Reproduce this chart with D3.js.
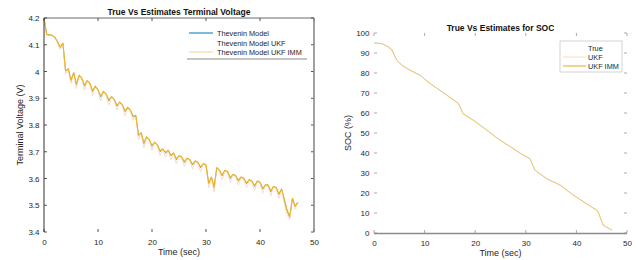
<!DOCTYPE html>
<html><head><meta charset="utf-8">
<script src="https://cdn.jsdelivr.net/npm/d3@7"></script>
<style>body{margin:0;background:#fff}svg{display:block;font-family:"Liberation Sans",Arial,sans-serif}</style>
</head><body><svg id="c" width="638" height="260"></svg>
<script>
// ---------- data ----------
const timeV = [0,0.5,1,1.5,2,2.5,3,3.5,4,4.5,5,5.5,6,6.5,7,7.5,8,8.5,9,9.5,10,10.5,11,11.5,12,12.5,13,13.5,14,14.5,15,15.5,16,16.5,17,17.5,18,18.5,19,19.5,20,20.5,21,21.5,22,22.5,23,23.5,24,24.5,25,25.5,26,26.5,27,27.5,28,28.5,29,29.5,30,30.5,31,31.5,32,32.5,33,33.5,34,34.5,35,35.5,36,36.5,37,37.5,38,38.5,39,39.5,40,40.5,41,41.5,42,42.5,43,43.5,44,44.5,45,45.5,46,46.5,47];
const vTrue = [4.200,4.138,4.136,4.135,4.128,4.110,4.090,4.105,4.000,4.010,
3.965,3.995,3.950,3.985,3.975,3.945,3.965,3.955,3.925,3.945,
3.930,3.905,3.925,3.915,3.890,3.905,3.895,3.870,3.885,3.875,
3.850,3.865,3.855,3.830,3.835,3.760,3.770,3.730,3.755,3.745,
3.720,3.735,3.725,3.700,3.710,3.695,3.705,3.685,3.695,3.670,
3.685,3.680,3.660,3.675,3.670,3.650,3.665,3.660,3.640,3.655,
3.650,3.580,3.605,3.565,3.640,3.630,3.610,3.630,3.625,3.600,
3.615,3.610,3.590,3.605,3.600,3.580,3.595,3.590,3.570,3.590,
3.585,3.560,3.575,3.575,3.550,3.570,3.565,3.540,3.560,3.520,
3.480,3.455,3.525,3.495,3.510];
const vUkf = [4.200,4.137,4.135,4.134,4.126,4.106,4.082,4.103,3.990,4.008,
3.955,3.993,3.935,3.983,3.972,3.930,3.963,3.952,3.910,3.943,
3.927,3.890,3.923,3.912,3.875,3.903,3.892,3.855,3.883,3.872,
3.835,3.863,3.852,3.818,3.833,3.745,3.768,3.715,3.753,3.742,
3.705,3.733,3.722,3.685,3.708,3.680,3.703,3.670,3.693,3.655,
3.683,3.677,3.645,3.673,3.667,3.635,3.663,3.657,3.625,3.653,
3.647,3.565,3.603,3.550,3.638,3.627,3.595,3.628,3.622,3.585,
3.613,3.607,3.575,3.603,3.597,3.565,3.593,3.587,3.555,3.588,
3.582,3.545,3.573,3.572,3.535,3.568,3.562,3.525,3.558,3.505,
3.465,3.445,3.523,3.485,3.508];
const vImm = [4.200,4.139,4.137,4.135,4.129,4.111,4.092,4.106,4.003,4.011,
3.968,3.996,3.953,3.986,3.976,3.948,3.966,3.956,3.928,3.946,
3.931,3.908,3.926,3.916,3.893,3.906,3.896,3.873,3.886,3.876,
3.853,3.866,3.856,3.833,3.836,3.763,3.771,3.733,3.756,3.746,
3.723,3.736,3.726,3.703,3.711,3.698,3.706,3.688,3.696,3.673,
3.686,3.681,3.663,3.676,3.671,3.653,3.666,3.661,3.643,3.656,
3.651,3.583,3.606,3.568,3.641,3.631,3.613,3.631,3.626,3.603,
3.616,3.611,3.593,3.606,3.601,3.583,3.596,3.591,3.573,3.591,
3.586,3.563,3.576,3.576,3.553,3.571,3.566,3.543,3.561,3.523,
3.483,3.458,3.526,3.497,3.511];

const timeS = [0,1.5,2.8,3.5,4.5,5.5,7.1,9.1,11.1,14.4,16.7,17.6,19.6,22.3,24.9,27.5,29.5,30.8,31.8,34.1,36.8,39.4,41.4,44,44.3,45.3,47];
const socTrue = [95,94.8,93.2,91.8,86.5,84,81.5,79,74.8,69,64.8,59.8,56.5,51.5,46.5,42.3,39,37.3,31.5,27.3,24,19,15.7,11.5,10.5,4,1.5];
const socUkf  = [95,94.6,93.0,91.5,86.3,83.8,81.3,78.8,74.6,68.8,64.6,59.6,56.3,51.3,46.3,42.1,38.8,37.1,31.3,27.1,23.8,18.8,15.5,11.3,10.3,3.8,1.3];
const socImm  = [95,94.7,93.1,91.7,86.4,83.9,81.4,78.9,74.7,68.9,64.7,59.7,56.4,51.4,46.4,42.2,38.9,37.2,31.4,27.2,23.9,18.9,15.6,11.4,10.4,3.9,1.4];

const vTicks = [3.4,3.5,3.6,3.7,3.8,3.9,4,4.1,4.2];
const socTicks = [0,10,20,30,40,50,60,70,80,90,100];
const xTicks = [0,10,20,30,40,50];
const legendV = ["Thevenin Model","Thevenin Model UKF","Thevenin Model UKF IMM"];
const legendS = ["True","UKF","UKF IMM"];
const colors = ["#0072BD","#F7DCCB","#F0B21E"];

// ---------- drawing ----------
const svg = d3.select("#c");
svg.append("rect").attr("width",638).attr("height",260).attr("fill","#fff");
const txt = "#262626";

function panel(o){
  const g = svg.append("g");
  const x = d3.scaleLinear().domain([0,50]).range([o.x0,o.x1]);
  const y = d3.scaleLinear().domain(o.ydom).range([o.y0,o.y1]);
  const line = d3.line().x(d=>x(d[0])).y(d=>y(d[1]));
  o.series.forEach((s,i)=>{
    g.append("path").datum(o.t.map((t,j)=>[t,s[j]]))
      .attr("d",line).attr("fill","none").attr("stroke",o.col[i])
      .attr("stroke-width",o.sw[i]).attr("stroke-linejoin","round");
  });
  const yAx = d3.axisLeft(y).tickValues(o.yTicks).tickSize(0).tickPadding(4).tickFormat(o.fmt);
  const xAx = d3.axisBottom(x).tickValues(xTicks).tickSize(0).tickPadding(7);
  const ga = g.append("g").attr("transform",`translate(${o.x0-0.5},0)`).call(yAx);
  ga.select(".domain").remove();
  ga.selectAll("text").attr("font-size",8).attr("fill",txt).attr("font-family","Liberation Sans, Arial");
  const gb = g.append("g").attr("transform",`translate(0,${o.y0})`).call(xAx);
  gb.select(".domain").remove();
  gb.selectAll("text").attr("font-size",8).attr("fill",txt).attr("font-family","Liberation Sans, Arial");
  o.yTicks.forEach(v=>{
    g.append("line").attr("x1",o.x0).attr("x2",o.x0+3).attr("y1",y(v)).attr("y2",y(v)).attr("stroke",o.tickCol);
    g.append("line").attr("x1",o.x1).attr("x2",o.x1-3).attr("y1",y(v)).attr("y2",y(v)).attr("stroke",o.tickCol);
  });
  xTicks.forEach(v=>{
    g.append("line").attr("x1",x(v)).attr("x2",x(v)).attr("y1",o.y0).attr("y2",o.y0-3).attr("stroke",o.tickCol);
    g.append("line").attr("x1",x(v)).attr("x2",x(v)).attr("y1",o.y1).attr("y2",o.y1+3).attr("stroke",o.tickCol);
  });
  o.frame(g,x,y);
  g.append("text").attr("x",(o.x0+o.x1)/2).attr("y",o.y0+23).attr("text-anchor","middle")
    .attr("font-size",9).attr("fill",txt).text("Time (sec)");
  g.append("text").attr("transform",`translate(${o.ylx},${(o.y0+o.y1)/2}) rotate(-90)`)
    .attr("text-anchor","middle").attr("font-size",9).attr("fill",txt).text(o.ylabel);
  g.append("text").attr("x",(o.x0+o.x1)/2).attr("y",o.ty).attr("text-anchor","middle")
    .attr("font-size",8.5).attr("font-weight","bold").attr("fill","#111").text(o.title);
  const L = o.leg;
  if(L.box){
    g.append("rect").attr("x",L.bx).attr("y",L.by).attr("width",L.bw).attr("height",L.bh)
      .attr("fill","#fff").attr("stroke","#c8c8c8").attr("stroke-width",0.8);
  } else {
    g.append("line").attr("x1",L.bx).attr("x2",L.bx+L.bw).attr("y1",L.by+L.bh).attr("y2",L.by+L.bh)
      .attr("stroke","#8c8c8c").attr("stroke-width",1.2);
  }
  o.labels.forEach((s,i)=>{
    const yy = L.ry[i];
    g.append("line").attr("x1",L.lx0).attr("x2",L.lx1).attr("y1",yy).attr("y2",yy)
      .attr("stroke",L.lc[i]).attr("stroke-width",L.lw[i]);
    g.append("text").attr("x",L.tx).attr("y",yy+2.6).attr("font-size",7.3).attr("fill",txt).text(s);
  });
}

panel({x0:44,x1:314,y0:232,y1:18,ydom:[3.4,4.2],t:timeV,series:[vTrue,vUkf,vImm],sw:[0.6,1,1.1],
  col:colors,
  yTicks:vTicks,fmt:d3.format("~g"),tickCol:"#555",ylx:23,ylabel:"Terminal Voltage (V)",
  ty:15,title:"True Vs Estimates Terminal Voltage",labels:legendV,
  leg:{box:false,bx:187,by:26,bw:120,bh:33,ry:[33,43,52],lx0:189,lx1:213,tx:217,
       lc:["#0072BD","#ffffff","#F3D38E"],lw:[1,1,1]},
  frame:(g,x,y)=>{
    g.append("line").attr("x1",44).attr("x2",44).attr("y1",18).attr("y2",232).attr("stroke","#333").attr("stroke-width",1);
    g.append("line").attr("x1",44).attr("x2",314).attr("y1",18).attr("y2",18).attr("stroke","#444").attr("stroke-width",0.8);
    g.append("line").attr("x1",314).attr("x2",314).attr("y1",18).attr("y2",232).attr("stroke","#8a8a8a").attr("stroke-width",1.6);
  }});

panel({x0:374,x1:627,y0:233,y1:33,ydom:[0,100],t:timeS,series:[socTrue,socUkf,socImm],sw:[0.5,0.7,0.8],
  col:["#8fb8d8","#F7DCCB","#F2C45A"],
  yTicks:socTicks,fmt:d3.format("d"),tickCol:"#aaa",ylx:351,ylabel:"SOC (%)",
  ty:31,title:"True Vs Estimates for SOC",labels:legendS,
  leg:{box:true,bx:560,by:41,bw:62,bh:31,ry:[48,57,66],lx0:563,lx1:586,tx:588,
       lc:["#ffffff","#F7DCCB","#F3D38E"],lw:[1,1,2]},
  frame:(g,x,y)=>{
    g.append("line").attr("x1",374).attr("x2",627).attr("y1",233.5).attr("y2",233.5).attr("stroke","#8a8a8a").attr("stroke-width",1.6);
  }});
</script></body></html>
